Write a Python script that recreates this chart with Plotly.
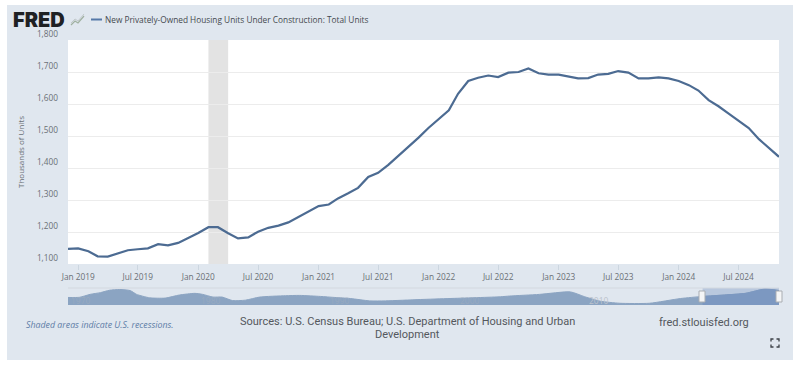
import plotly.graph_objects as go

W, H = 800, 366

# ---------- data ----------
months = [f"{y}-{m:02d}-01" for y in range(2018, 2025) for m in range(1, 13)][11:-1]
units = [
    1147,
    1149, 1140, 1124, 1123, 1132, 1143, 1146, 1149, 1162, 1158, 1166, 1180,
    1197, 1215, 1215, 1196, 1180, 1183, 1201, 1213, 1220, 1230, 1247, 1262,
    1281, 1286, 1305, 1321, 1338, 1372, 1385, 1410, 1438, 1465, 1495, 1525,
    1552, 1580, 1632, 1672, 1682, 1689, 1684, 1698, 1700, 1711, 1696, 1692,
    1692, 1686, 1680, 1681, 1692, 1694, 1703, 1698, 1680, 1680, 1683, 1680,
    1672, 1659, 1642, 1612, 1593, 1570, 1547, 1525, 1490, 1462, 1435,
]
tick_dates = ["2019-01-01", "2019-07-01", "2020-01-01", "2020-07-01", "2021-01-01", "2021-07-01",
              "2022-01-01", "2022-07-01", "2023-01-01", "2023-07-01", "2024-01-01", "2024-07-01"]
tick_labels = ["Jan 2019", "Jul 2019", "Jan 2020", "Jul 2020", "Jan 2021", "Jul 2021",
               "Jan 2022", "Jul 2022", "Jan 2023", "Jul 2023", "Jan 2024", "Jul 2024"]
y_ticks = [1100, 1200, 1300, 1400, 1500, 1600, 1700, 1800]
recession = ["2020-02-01", "2020-04-01"]

nav_years = [1970, 1970.9, 1971.7, 1972.5, 1973.2, 1974, 1974.8, 1975.3, 1976.3, 1977.5, 1978.6,
             1979.8, 1980.4, 1981.2, 1981.9, 1982.7, 1983.7, 1984.8, 1986.8, 1987.9, 1989.5,
             1990.6, 1991.8, 1993.3, 1994.5, 1997.2, 1999.5, 2003.4, 2004.1, 2006.4, 2008.8,
             2009.9, 2011.1, 2012.6, 2014.9, 2017.3, 2019, 2020.7, 2022.3, 2023.8, 2024.9]
nav_values = [997, 1015, 1259, 1408, 1608, 1670, 1582, 1259, 971, 945, 1207,
              1346, 1259, 1032, 1032, 735, 770, 1032, 1146, 1172, 1085,
              997, 910, 709, 709, 823, 910, 1058, 1120, 1259, 1469,
              1058, 683, 508, 508, 910, 1085, 1207, 1346, 1710, 1582]
nav_labels = [1970, 1980, 1990, 2000, 2010]
selected_from = 2019

# ---------- layout helpers (pixel to paper) ----------
def px(x):
    return x / W

def py(y):
    return 1 - y / H

def box(x0, y0, x1, y1, fill, layer="below", line=None):
    return dict(type="rect", xref="paper", yref="paper", x0=px(x0), x1=px(x1), y0=py(y0), y1=py(y1),
                fillcolor=fill, line=line or dict(width=0), layer=layer)

def polyline(points, color, width):
    path = "M" + " L".join(f"{px(a):.5f},{py(b):.5f}" for a, b in points)
    return dict(type="path", xref="paper", yref="paper", path=path,
                line=dict(color=color, width=width), layer="above")

def note(x, y, text, size, color, family="Open Sans", anchor="left", weight=None):
    font = dict(size=size, color=color, family=family)
    if weight:
        font["weight"] = weight
    return dict(xref="paper", yref="paper", x=px(x), y=py(y), text=text, showarrow=False,
                xanchor=anchor, yanchor="middle", font=font)

LINE = "#4c6b92"
PANEL = "#e0e7ef"
TEXT = "#6b7076"

sel_years = [a for a in nav_years if a >= selected_from]
sel_values = nav_values[-len(sel_years):]

fig = go.Figure()
fig.add_trace(go.Scatter(x=months, y=units, mode="lines", name="New Privately-Owned Housing Units Under Construction: Total Units",
                         line=dict(color=LINE, width=2.2), xaxis="x", yaxis="y", showlegend=False))
fig.add_trace(go.Scatter(x=nav_years, y=nav_values, mode="lines", fill="tozeroy", fillcolor="#8ba4c2",
                         line=dict(color="#8ba4c2", width=1, shape="spline", smoothing=0.6),
                         xaxis="x2", yaxis="y2", showlegend=False, hoverinfo="skip"))
fig.add_trace(go.Scatter(x=sel_years, y=sel_values, mode="lines", fill="tozeroy", fillcolor="#7c98c1",
                         line=dict(color="#7c98c1", width=1, shape="spline", smoothing=0.6),
                         xaxis="x2", yaxis="y2", showlegend=False, hoverinfo="skip"))

shapes = [
    box(7, 5, 793, 360, PANEL),
    box(68, 40, 779, 264, "#ffffff"),
    dict(type="rect", xref="x", yref="y", x0=recession[0], x1=recession[1], y0=1100, y1=1800,
         fillcolor="#e3e3e3", line=dict(width=0), layer="below"),
    # navigator frame and selected window
    polyline([(68, 288), (779, 288)], "#d3d8df", 1),
    dict(type="rect", xref="x2", yref="y2", x0=selected_from, x1=nav_years[-1], y0=360, y1=1800,
         fillcolor="#b9c8de", line=dict(width=0), layer="below"),
    # navigator handles
    box(699, 291, 705, 302, "#f4f5f6", layer="above", line=dict(color="#a9adb2", width=1)),
    box(776, 291, 782, 302, "#f4f5f6", layer="above", line=dict(color="#a9adb2", width=1)),
    # legend swatch
    polyline([(91, 19.5), (102, 19.5)], "#5578a8", 2),
    # logo sparkline
    polyline([(71, 25), (75, 21), (78, 23), (84, 16)], "#9fb0a0", 1.2),
    polyline([(71, 23), (75, 19), (78, 21), (84, 14)], "#c2c9cc", 1),
]
# full-screen icon corners
cx0, cy0, cx1, cy1, c = 771, 339, 779, 347, 2.5
for pts in ([(cx0, cy0 + c), (cx0, cy0), (cx0 + c, cy0)], [(cx1 - c, cy0), (cx1, cy0), (cx1, cy0 + c)],
            [(cx0, cy1 - c), (cx0, cy1), (cx0 + c, cy1)], [(cx1 - c, cy1), (cx1, cy1), (cx1, cy1 - c)]):
    shapes.append(polyline(pts, "#3d4248", 1.3))

annotations = [
    note(11, 19.5, "FRED", 20, "#1f2124", family="Inter", weight=900),
    note(103, 19.5, "New Privately-Owned Housing Units Under Construction: Total Units", 8.3, "#45494e"),
    note(24, 325, "<i>Shaded areas indicate U.S. recessions.</i>", 8.8, "#5d7ca6"),
    note(407, 321.5, "Sources: U.S. Census Bureau; U.S. Department of Housing and Urban", 11, "#54585d",
         family="Roboto", anchor="center"),
    note(407, 334, "Development", 11, "#54585d", family="Roboto", anchor="center"),
    note(657, 322, "fred.stlouisfed.org", 11, "#54585d", family="Roboto"),
]
for yr in nav_labels:
    annotations.append(dict(xref="x2", yref="paper", x=yr, y=py(300), text=str(yr), showarrow=False,
                            xanchor="left", yanchor="middle", xshift=1,
                            font=dict(size=8.5, color="#bcc3cc" if yr == 2010 else "rgba(170,178,188,0.45)",
                                      family="Open Sans")))

fig.update_layout(
    width=W, height=H, autosize=False,
    margin=dict(l=0, r=0, t=0, b=0, pad=0, autoexpand=False),
    paper_bgcolor="#ffffff", plot_bgcolor="rgba(0,0,0,0)",
    shapes=shapes, annotations=annotations,
    xaxis=dict(domain=[px(68), px(779)], anchor="y", type="date", range=[months[0], months[-1]],
               tickvals=tick_dates, ticktext=tick_labels, showgrid=False, zeroline=False, showline=False,
               ticks="outside", ticklen=5, tickcolor="#ccd6e0", tickwidth=1,
               tickfont=dict(size=8.3, color=TEXT, family="Open Sans")),
    yaxis=dict(domain=[py(264), py(40)], anchor="x", range=[1100, 1800], tickvals=y_ticks, tickformat=",d",
               ticklabelposition="outside top", ticklabelstandoff=9, ticks="",
               gridcolor="#ececec", gridwidth=1, zeroline=False, showline=False,
               tickfont=dict(size=8.3, color=TEXT, family="Open Sans"),
               title=dict(text="Thousands of Units", standoff=11,
                          font=dict(size=8, color=TEXT, family="Open Sans"))),
    xaxis2=dict(domain=[px(68), px(779)], anchor="y2", range=[1970, 2024.9], visible=False),
    yaxis2=dict(domain=[py(305), py(288)], anchor="x2", range=[360, 1800], visible=False),
)
fig.write_html("out.html", config=dict(displayModeBar=False),
               post_script="document.body.style.margin='0';document.documentElement.style.overflow='hidden';")
